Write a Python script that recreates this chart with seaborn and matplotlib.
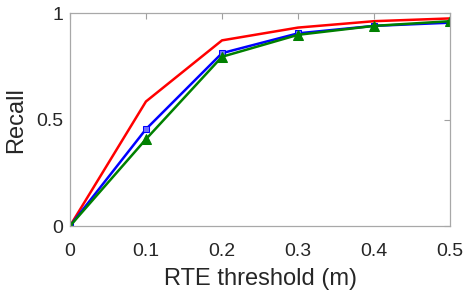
import numpy as np
import pandas as pd
import matplotlib
matplotlib.use('Agg')
import matplotlib.pyplot as plt
import seaborn as sns

# Data
thresholds = [0, 0.1, 0.2, 0.3, 0.4, 0.5]
recall_red = [0, 0.585, 0.872, 0.932, 0.962, 0.975]
recall_blue = [0, 0.455, 0.812, 0.905, 0.940, 0.955]
recall_green = [0, 0.408, 0.795, 0.898, 0.940, 0.962]

sns.set_theme(style='white')
plt.rcParams['font.family'] = ['Liberation Sans', 'DejaVu Sans']

df = pd.DataFrame({
    'x': thresholds * 3,
    'y': recall_red + recall_blue + recall_green,
    'series': ['red'] * 6 + ['blue'] * 6 + ['green'] * 6,
})

fig = plt.figure(figsize=(4.66, 2.91), dpi=100)
ax = fig.add_axes([0.150, 0.223, 0.816, 0.732])

sns.lineplot(data=df[df.series == 'red'], x='x', y='y', color='#ff0000',
             lw=1.8, ax=ax, legend=False)
sns.lineplot(data=df[df.series == 'blue'], x='x', y='y', color='#0000ff',
             lw=1.8, marker='s', markersize=5, markerfacecolor='#6f6fff',
             markeredgecolor='#0000ff', ax=ax, legend=False)
sns.lineplot(data=df[df.series == 'green'], x='x', y='y', color='#008000',
             lw=1.8, marker='^', markersize=7, markerfacecolor='#008000',
             markeredgecolor='#008000', ax=ax, legend=False)

ax.set_xlim(0, 0.5)
ax.set_ylim(0, 1)
ax.set_xticks(thresholds)
ax.set_xticklabels(['0', '0.1', '0.2', '0.3', '0.4', '0.5'])
ax.set_yticks([0, 0.5, 1])
ax.set_yticklabels(['0', '0.5', '1'])
ax.set_xlabel('RTE threshold (m)', fontsize=17, color='#262626', labelpad=6)
ax.set_ylabel('Recall', fontsize=17, color='#262626', labelpad=6)
ax.tick_params(direction='in', length=4, width=0.8, colors='#a0a0a0',
               labelcolor='#262626', labelsize=14, top=True, right=True)
ax.tick_params(axis='x', pad=12)
ax.tick_params(axis='y', pad=5)
for s in ax.spines.values():
    s.set_color('#a8a8a8')
    s.set_linewidth(0.9)
ax.grid(False)

fig.savefig('out.png', dpi=100)
